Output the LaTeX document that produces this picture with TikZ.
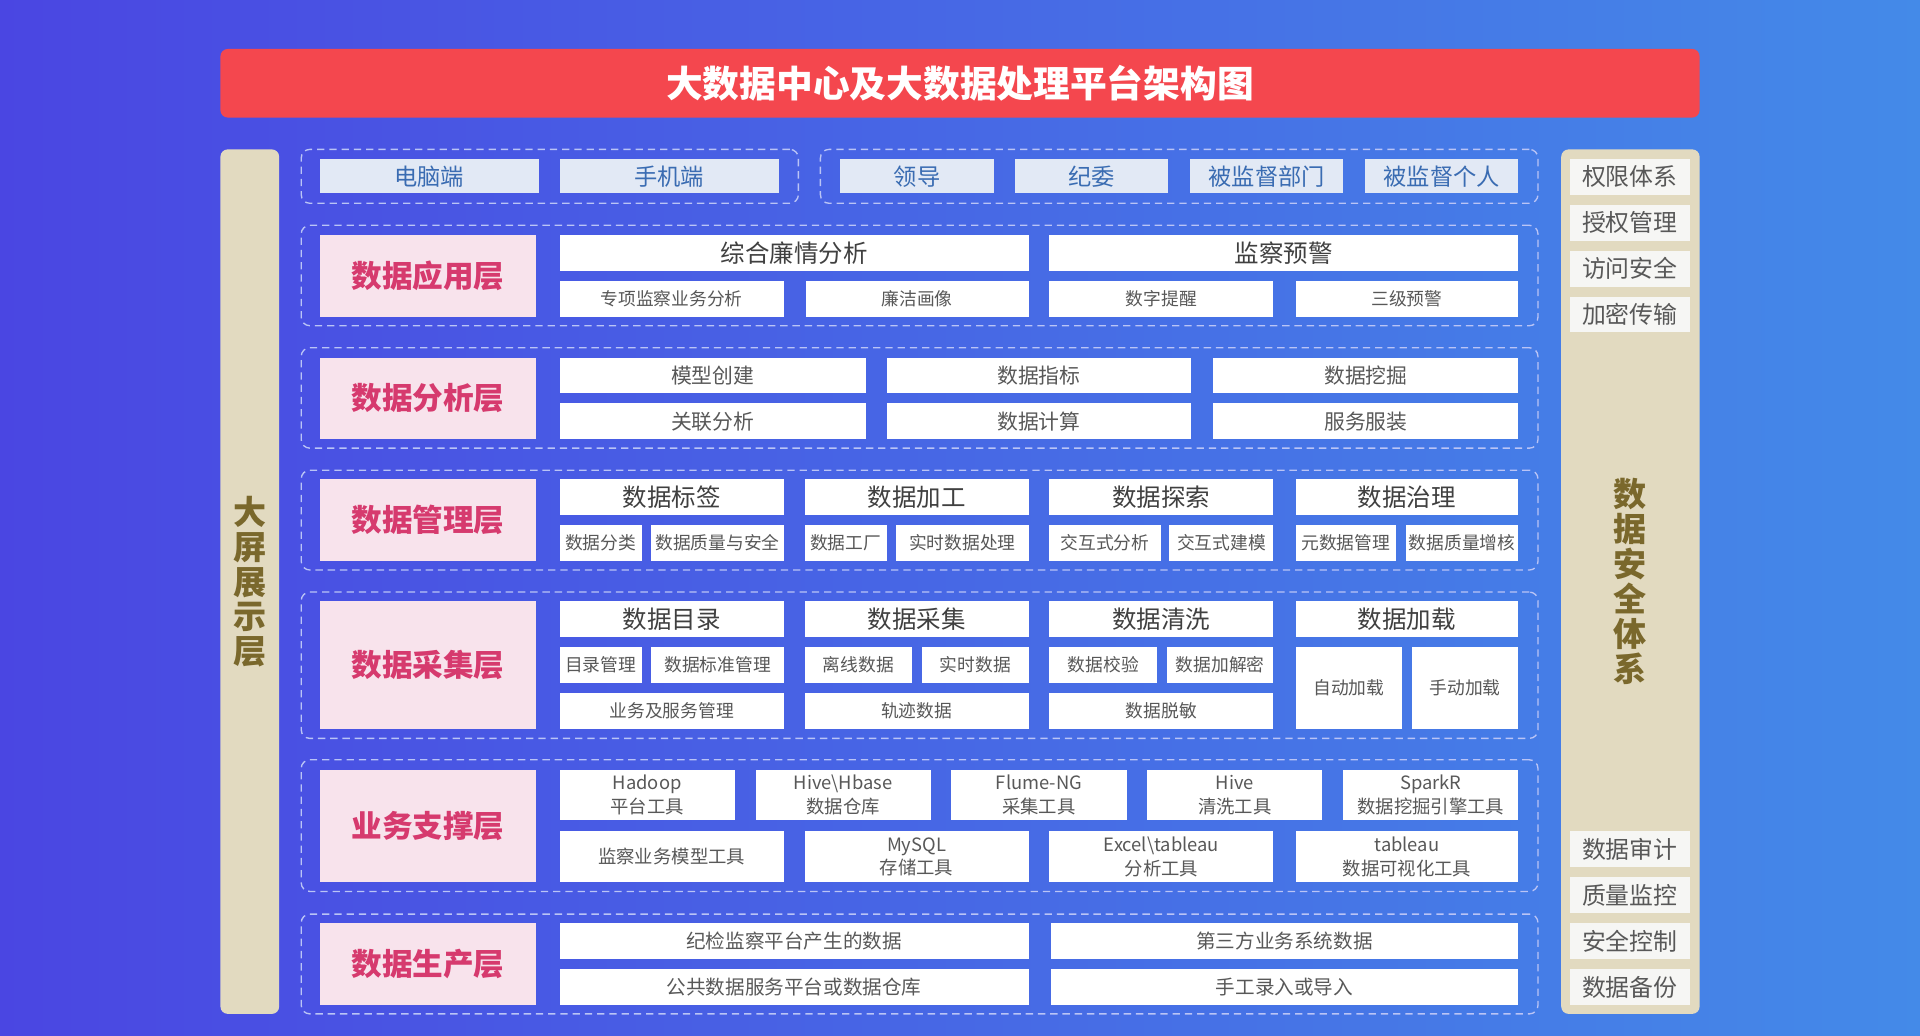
\documentclass[tikz,border=0pt]{standalone}
\usepackage{fontspec}
\setmainfont{Noto Sans CJK SC}
\definecolor{bgL}{RGB}{74,70,226}
\definecolor{bgR}{RGB}{68,138,232}
\definecolor{titleR}{RGB}{244,71,78}
\definecolor{beige}{RGB}{226,218,192}
\definecolor{olive}{RGB}{122,104,44}
\definecolor{pinkF}{RGB}{248,227,236}
\definecolor{pinkT}{RGB}{214,58,110}
\definecolor{termF}{RGB}{226,233,245}
\definecolor{termT}{RGB}{58,108,178}
\definecolor{txtG}{RGB}{88,88,88}
\definecolor{txtD}{RGB}{64,64,64}
\definecolor{dashC}{RGB}{186,196,246}
\definecolor{secF}{RGB}{246,246,244}
\newcommand\DBox[7]{\node[#2, minimum width={(#5-#3)*1pt}, minimum height={(#6-#4)*1pt}] (#1) at ({(#3+#5)/2},{(#4+#6)/2}) {#7};}
\tikzset{
  base/.style={inner sep=0pt, outer sep=0pt, align=center},
  grp/.style={base, draw=dashC, dash pattern=on 6pt off 4pt, line width=1.1pt, rounded corners=7pt},
  cbox/.style={base, fill=white, text=txtG},
  hd/.style={cbox, text=txtD, font=\fontsize{20}{22}\selectfont},
  sm/.style={cbox, font=\fontsize{14.5}{17}\selectfont},
  md/.style={cbox, font=\fontsize{17}{20}\selectfont},
  two/.style={cbox, font=\fontsize{15}{19.5}\selectfont},
  lab/.style={base, fill=pinkF, text=pinkT, font=\bfseries\fontsize{25}{28}\selectfont},
  term/.style={base, fill=termF, text=termT, font=\fontsize{19}{22}\selectfont},
  sec/.style={base, fill=secF, text=txtG, font=\fontsize{19.5}{22}\selectfont},
  panel/.style={base, fill=beige, rounded corners=6pt},
  vtext/.style={base, text=olive, font=\bfseries\fontsize{27}{28.5}\selectfont},
}
\begin{document}
\begin{tikzpicture}[x=1pt,y=-1pt]
\shade[left color=bgL, right color=bgR] (0,0) rectangle (1568,846);
\useasboundingbox (0,0) rectangle (1568,846);
% title
\DBox{title}{base, fill=titleR, rounded corners=6pt, text=white, font=\bfseries\fontsize{30}{32}\selectfont}{180}{40}{1388}{96}{大数据中心及大数据处理平台架构图}
% side panels
\DBox{lpanel}{panel}{180}{122}{228}{828}{}
\node[vtext] (ltext) at (204,475) {大\\屏\\展\\示\\层};
\DBox{rpanel}{panel}{1275}{122}{1388}{828}{}
\node[vtext] (rtext) at (1331,475) {数\\据\\安\\全\\体\\系};
\DBox{s1}{sec}{1282}{130}{1380}{159}{权限体系}
\DBox{s2}{sec}{1282}{167.5}{1380}{196.5}{授权管理}
\DBox{s3}{sec}{1282}{205}{1380}{234}{访问安全}
\DBox{s4}{sec}{1282}{242.5}{1380}{271.5}{加密传输}
\DBox{s5}{sec}{1282}{679}{1380}{708}{数据审计}
\DBox{s6}{sec}{1282}{716.5}{1380}{745.5}{质量监控}
\DBox{s7}{sec}{1282}{754}{1380}{783}{安全控制}
\DBox{s8}{sec}{1282}{791.5}{1380}{820.5}{数据备份}
% row 0 terminals
\DBox{g0a}{grp}{246}{122}{652}{166}{}
\DBox{g0b}{grp}{670}{122}{1256}{166}{}
\DBox{t1}{term}{261}{130}{440}{158}{电脑端}
\DBox{t2}{term}{457}{130}{636}{158}{手机端}
\DBox{t3}{term}{686}{130}{812}{158}{领导}
\DBox{t4}{term}{829}{130}{954}{158}{纪委}
\DBox{t5}{term}{972}{130}{1097}{158}{被监督部门}
\DBox{t6}{term}{1115}{130}{1240}{158}{被监督个人}
% L1
\DBox{g1}{grp}{246}{184}{1256}{266}{}
\DBox{l1}{lab}{261}{192}{438}{258.5}{数据应用层}
\DBox{a1}{hd}{457}{192}{840}{221}{综合廉情分析}
\DBox{a2}{hd}{857}{192}{1240}{221}{监察预警}
\DBox{a3}{sm}{457}{229.5}{640}{258.5}{专项监察业务分析}
\DBox{a4}{sm}{658}{229.5}{840}{258.5}{廉洁画像}
\DBox{a5}{sm}{857}{229.5}{1040}{258.5}{数字提醒}
\DBox{a6}{sm}{1058}{229.5}{1240}{258.5}{三级预警}
% L2
\DBox{g2}{grp}{246}{284}{1256}{366}{}
\DBox{l2}{lab}{261}{292}{438}{358.5}{数据分析层}
\DBox{b1}{md}{457}{292}{707}{321}{模型创建}
\DBox{b2}{md}{724}{292}{973}{321}{数据指标}
\DBox{b3}{md}{991}{292}{1240}{321}{数据挖掘}
\DBox{b4}{md}{457}{329.5}{707}{358.5}{关联分析}
\DBox{b5}{md}{724}{329.5}{973}{358.5}{数据计算}
\DBox{b6}{md}{991}{329.5}{1240}{358.5}{服务服装}
% L3
\DBox{g3}{grp}{246}{384}{1256}{465.5}{}
\DBox{l3}{lab}{261}{391.5}{438}{458}{数据管理层}
\DBox{c1}{hd}{457}{391.5}{640}{420.5}{数据标签}
\DBox{c2}{hd}{657}{391.5}{840}{420.5}{数据加工}
\DBox{c3}{hd}{857}{391.5}{1040}{420.5}{数据探索}
\DBox{c4}{hd}{1058}{391.5}{1240}{420.5}{数据治理}
\DBox{c5}{sm}{457}{429}{524}{458}{数据分类}
\DBox{c6}{sm}{532}{429}{640}{458}{数据质量与安全}
\DBox{c7}{sm}{657}{429}{724}{458}{数据工厂}
\DBox{c8}{sm}{732}{429}{840}{458}{实时数据处理}
\DBox{c9}{sm}{857}{429}{948}{458}{交互式分析}
\DBox{c10}{sm}{955}{429}{1040}{458}{交互式建模}
\DBox{c11}{sm}{1058}{429}{1140}{458}{元数据管理}
\DBox{c12}{sm}{1148}{429}{1240}{458}{数据质量增核}
% L4
\DBox{g4}{grp}{246}{483.5}{1256}{603}{}
\DBox{l4}{lab}{261}{491}{438}{595}{数据采集层}
\DBox{d1}{hd}{457}{491}{640}{520}{数据目录}
\DBox{d2}{hd}{657}{491}{840}{520}{数据采集}
\DBox{d3}{hd}{857}{491}{1040}{520}{数据清洗}
\DBox{d4}{hd}{1058}{491}{1240}{520}{数据加载}
\DBox{d5}{sm}{457}{528.5}{524}{557.5}{目录管理}
\DBox{d6}{sm}{532}{528.5}{640}{557.5}{数据标准管理}
\DBox{d7}{sm}{657}{528.5}{745}{557.5}{离线数据}
\DBox{d8}{sm}{753}{528.5}{840}{557.5}{实时数据}
\DBox{d9}{sm}{857}{528.5}{945}{557.5}{数据校验}
\DBox{d10}{sm}{953}{528.5}{1040}{557.5}{数据加解密}
\DBox{d11}{sm}{1058}{528.5}{1145}{595}{自动加载}
\DBox{d12}{sm}{1153}{528.5}{1240}{595}{手动加载}
\DBox{d13}{sm}{457}{566}{640}{595}{业务及服务管理}
\DBox{d14}{sm}{657}{566}{840}{595}{轨迹数据}
\DBox{d15}{sm}{857}{566}{1040}{595}{数据脱敏}
% L5
\DBox{g5}{grp}{246}{620.5}{1256}{728}{}
\DBox{l5}{lab}{261}{628.5}{438}{720.5}{业务支撑层}
\DBox{e1}{two}{457}{628.5}{600}{670}{Hadoop\\平台工具}
\DBox{e2}{two}{617}{628.5}{760}{670}{Hive\textbackslash Hbase\\数据仓库}
\DBox{e3}{two}{777}{628.5}{920}{670}{Flume-NG\\采集工具}
\DBox{e4}{two}{937}{628.5}{1080}{670}{Hive\\清洗工具}
\DBox{e5}{two}{1097}{628.5}{1240}{670}{SparkR\\数据挖掘引擎工具}
\DBox{e6}{two}{457}{679}{640}{720.5}{监察业务模型工具}
\DBox{e7}{two}{657}{679}{840}{720.5}{MySQL\\存储工具}
\DBox{e8}{two}{857}{679}{1040}{720.5}{Excel\textbackslash tableau\\分析工具}
\DBox{e9}{two}{1058}{679}{1240}{720.5}{tableau\\数据可视化工具}
% L6
\DBox{g6}{grp}{246}{746.5}{1256}{828}{}
\DBox{l6}{lab}{261}{754}{438}{820.5}{数据生产层}
\DBox{f1}{cbox, font=\fontsize{16}{19}\selectfont}{457}{754}{840}{783}{纪检监察平台产生的数据}
\DBox{f2}{cbox, font=\fontsize{16}{19}\selectfont}{858}{754}{1240}{783}{第三方业务系统数据}
\DBox{f3}{cbox, font=\fontsize{16}{19}\selectfont}{457}{791.5}{840}{820.5}{公共数据服务平台或数据仓库}
\DBox{f4}{cbox, font=\fontsize{16}{19}\selectfont}{858}{791.5}{1240}{820.5}{手工录入或导入}
\end{tikzpicture}
\end{document}
